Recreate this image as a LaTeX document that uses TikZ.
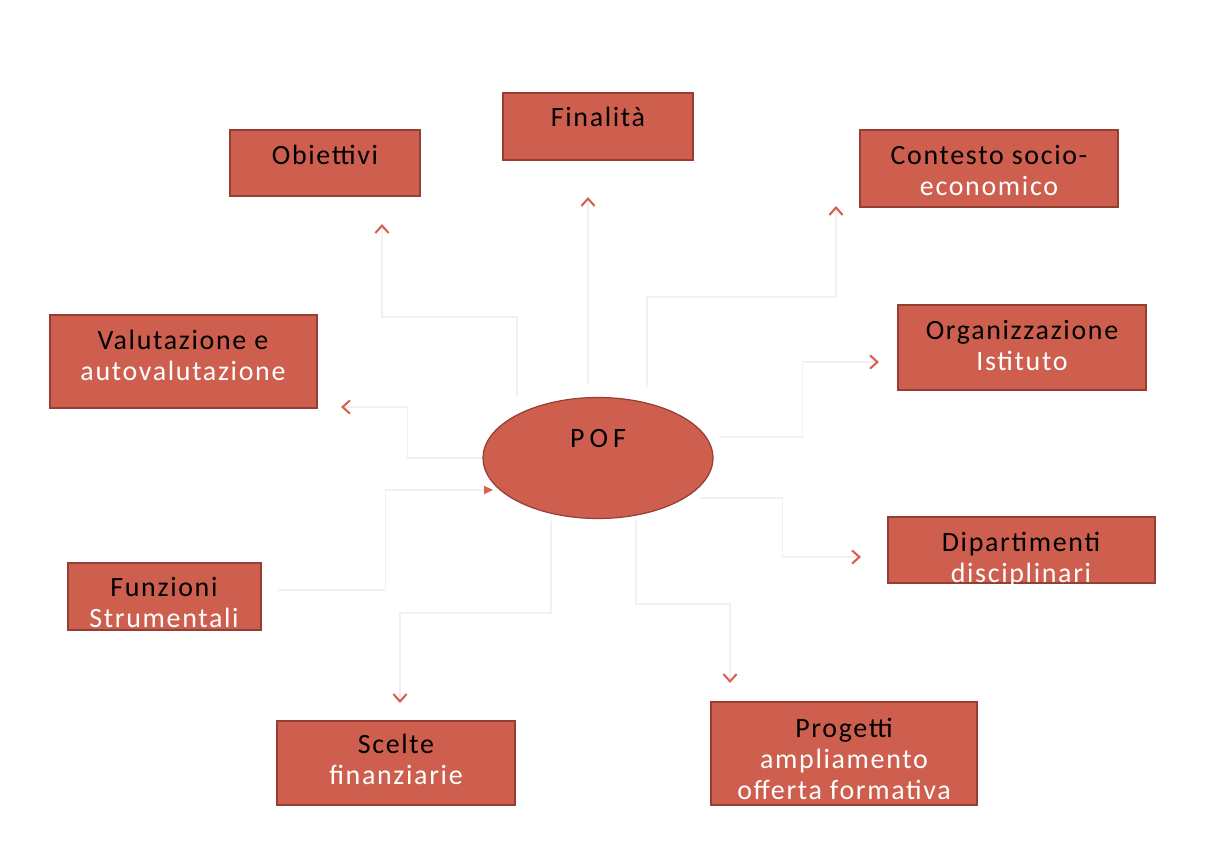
\documentclass[tikz,border=0pt]{standalone}
\usepackage{fontspec}
\setmainfont{Carlito}[LetterSpace=6]
\usetikzlibrary{arrows.meta,fit,shapes.geometric,calc}
\definecolor{boxred}{RGB}{206,95,78}
\definecolor{boxedge}{RGB}{150,62,52}
\definecolor{arrowred}{RGB}{214,98,80}
\definecolor{faint}{RGB}{245,240,240}
\newcommand{\twolines}[2]{\begin{tabular}[t]{@{}c@{}}#1\\\color{white}#2\end{tabular}}
\newcommand{\threelines}[3]{\begin{tabular}[t]{@{}c@{}}#1\\\color{white}#2\\\color{white}#3\end{tabular}}
\begin{document}
\begin{tikzpicture}[x=0.02cm,y=-0.02cm,
  box/.style={draw=boxedge, fill=boxred, line width=0.7pt, inner sep=0pt, rectangle},
  lbl/.style={anchor=base, inner sep=0pt, font=\fontsize{15.9}{17.4}\selectfont, text=black},
  conn/.style={draw=faint, line width=0.8pt,
    -{Straight Barb[color=arrowred,length=4.2pt,width=7.5pt,line width=1.2pt]}},
  connin/.style={draw=faint, line width=0.8pt,
    -{Triangle[color=arrowred,fill=arrowred,length=5pt,width=4.5pt]}}]
\fill[white] (0,0) rectangle (1205,847);
\useasboundingbox (0,0) rectangle (1205,847);

% boxes
\node[box, fit={(230,130) (420,196)}] (obj) {};
\node[box, fit={(503,93) (693,160)}] (fin) {};
\node[box, fit={(860,130) (1118,207)}] (con) {};
\node[box, fit={(898,305) (1146,390)}] (org) {};
\node[box, fit={(50,315) (317,408)}] (val) {};
\node[box, fit={(68,563) (261,630)}] (funz) {};
\node[box, fit={(888,517) (1155,583)}] (dip) {};
\node[box, fit={(277,721) (515,805)}] (sce) {};
\node[box, fit={(711,702) (977,805)}] (pro) {};
\node[ellipse, draw=boxedge, fill=boxred, line width=0.7pt, inner sep=0pt,
      minimum width=4.6cm, minimum height=2.42cm] (pof) at (598,458) {};

% labels
\node[lbl] (objT) at (325,165) {Obiettivi};
\node[lbl] (finT) at (598,127) {Finalità};
\node[lbl] (conT) at (989,165) {\twolines{Contesto socio-}{economico}};
\node[lbl] (orgT) at (1022,340) {\twolines{Organizzazione}{Istituto}};
\node[lbl] (valT) at (183,350) {\twolines{Valutazione e}{autovalutazione}};
\node[lbl] (funzT) at (164,597) {\twolines{Funzioni}{Strumentali}};
\node[lbl] (dipT) at (1021,552) {\twolines{Dipartimenti}{disciplinari}};
\node[lbl] (sceT) at (396,754) {\twolines{Scelte}{finanziarie}};
\node[lbl] (proT) at (844,738) {\threelines{Progetti}{ampliamento}{offerta formativa}};
\node[lbl, font=\fontsize{15.9}{17.4}\selectfont\addfontfeature{LetterSpace=18}] (pofT) at (598,448) {POF};

% connector end points
\coordinate (objA) at (382,224);
\coordinate (finA) at (588,197);
\coordinate (conA) at (836,206);
\coordinate (orgA) at (879,362);
\coordinate (dipA) at (861,557);
\coordinate (proA) at (730,683);
\coordinate (sceA) at (400,703);
\coordinate (valA) at (341,407);
\coordinate (pofIn) at (493,490);

% connectors
\draw[conn] ($(pof.north)+(-81,0)$) -- ++(0,-80) -| (objA);
\draw[conn] ($(pof.north)+(-10,-14)$) -- (finA);
\draw[conn] ($(pof.north)+(49,-10)$) -- ++(0,-90) -| (conA);
\draw[conn] ($(pof.east)+(7,-21)$) -- ++(82,0) |- (orgA);
\draw[conn] ($(pof.east)+(-13,40)$) -- ++(82,0) |- (dipA);
\draw[conn] ($(pof.south)+(38,2)$) -- ++(0,83) -| (proA);
\draw[conn] ($(pof.south)+(-47,2)$) -- ++(0,92) -| (sceA);
\draw[conn] (pof.west) -- ++(-75,0) |- (valA);
\draw[connin] ($(funz.east)+(16,-6.5)$) -- ++(108,0) |- (pofIn);
\end{tikzpicture}
\end{document}
